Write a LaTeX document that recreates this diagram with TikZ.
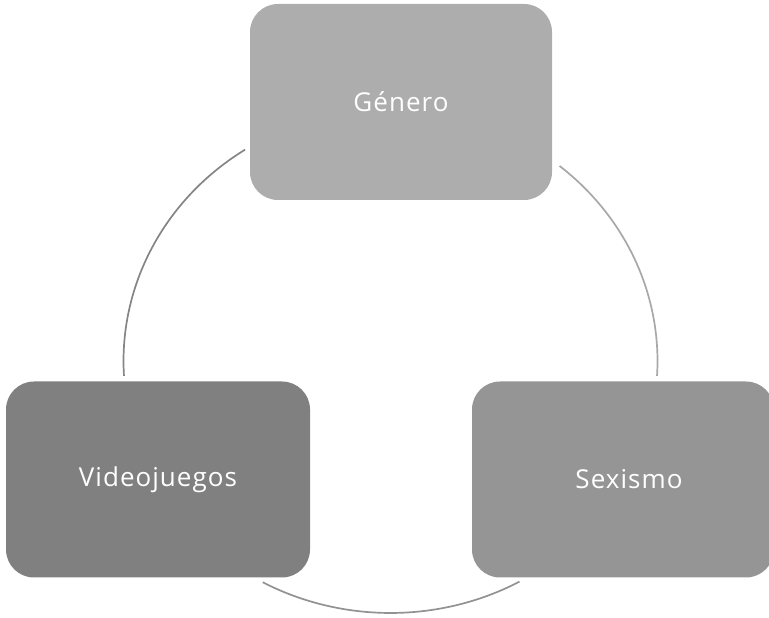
\documentclass[tikz,border=0pt]{standalone}
\usepackage{fontspec}
\setmainfont{Open Sans}[LetterSpace=4]
\definecolor{genero}{HTML}{ADADAD}
\definecolor{video}{HTML}{808080}
\definecolor{sexo}{HTML}{959595}
\definecolor{ringl}{HTML}{858585}
\definecolor{ringr}{HTML}{A8A8A8}
\definecolor{ringb}{HTML}{929292}

\begin{document}
\begin{tikzpicture}[
    x=1pt, y=1pt,
    box/.style={rounded corners=28pt, fill, text=white, align=center,
                minimum width=302pt, minimum height=196pt,
                font=\fontsize{26}{30}\selectfont},
    ring/.style={line width=1.7pt},
]
\useasboundingbox (0,0) rectangle (769,618);

\node[box, fill=genero] (G) at (401,516) {Género};
\node[box, fill=video, minimum width=304pt] (V) at (158,138.5) {Videojuegos};
\node[box, fill=sexo] (S) at (623,138.5) {\hspace*{12pt}Sexismo};

\coordinate (O) at (390.5,257);

\draw[ring, ringl] ([shift={(123:267 and 252)}]O)
    arc[start angle=123, end angle=183.4, x radius=267, y radius=252];
\draw[ring, ringr] ([shift={(50.7:267 and 252)}]O)
    arc[start angle=50.7, end angle=-3.4, x radius=267, y radius=252];
\draw[ring, ringb] ([shift={(241.4:267 and 252)}]O)
    arc[start angle=241.4, end angle=298.9, x radius=267, y radius=252];

\end{tikzpicture}
\end{document}
